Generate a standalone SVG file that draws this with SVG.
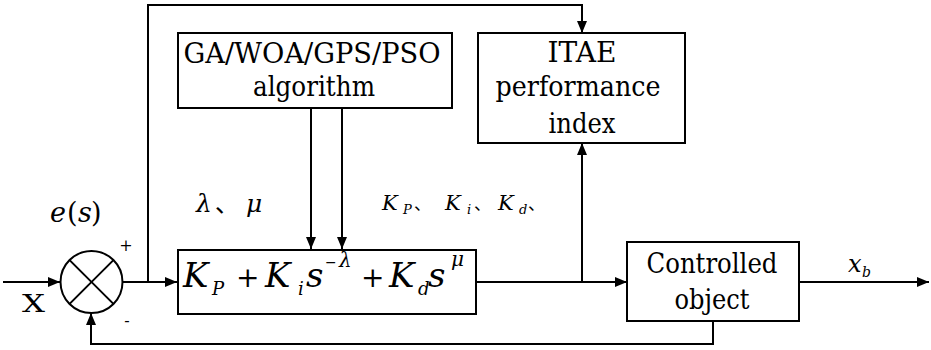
<svg xmlns="http://www.w3.org/2000/svg" width="931" height="350" viewBox="0 0 931 350">
<style>
.box{fill:#fff;stroke:#000;stroke-width:2}
.ln{fill:none;stroke:#000;stroke-width:2}
text{font-family:'DejaVu Serif','Liberation Serif',serif;fill:#000}
.lb{font-size:28px;text-anchor:middle}
.i{font-style:italic}
.cjk{font-family:'Noto Sans CJK SC',sans-serif;font-style:normal}
</style>
<defs>
<marker id="ah" viewBox="0 0 12 10" refX="12" refY="5" markerWidth="12" markerHeight="10" markerUnits="userSpaceOnUse" orient="auto">
<path d="M0,0 L12,5 L0,10 Z" fill="#000"/>
</marker>
</defs>
<rect width="931" height="350" fill="#fff"/>
<g id="connectors">
<line class="ln" x1="3" y1="282" x2="60" y2="282" marker-end="url(#ah)"/>
<line class="ln" x1="123" y1="282" x2="177" y2="282" marker-end="url(#ah)"/>
<polyline class="ln" points="148,282 148,5 582,5 582,33" marker-end="url(#ah)"/>
<line class="ln" x1="311" y1="108" x2="311" y2="249" marker-end="url(#ah)"/>
<line class="ln" x1="342" y1="108" x2="342" y2="249" marker-end="url(#ah)"/>
<line class="ln" x1="476" y1="282" x2="627" y2="282" marker-end="url(#ah)"/>
<line class="ln" x1="582" y1="282" x2="582" y2="143" marker-end="url(#ah)"/>
<line class="ln" x1="799" y1="282" x2="929" y2="282" marker-end="url(#ah)"/>
<polyline class="ln" points="713,321 713,344 91,344 91,313" marker-end="url(#ah)"/>
</g>
<g id="sum">
<circle cx="91.5" cy="282" r="31" class="box"/>
<line class="ln" x1="69.6" y1="260.1" x2="113.4" y2="303.9"/>
<line class="ln" x1="113.4" y1="260.1" x2="69.6" y2="303.9"/>
<text x="126" y="251" font-size="16" text-anchor="middle">+</text>
<text x="127" y="326" font-size="16" text-anchor="middle">-</text>
</g>
<g id="labels">
<text x="22" y="312" font-size="24" textLength="23" lengthAdjust="spacingAndGlyphs">X</text>
<text y="222" font-size="27"><tspan class="i" x="50">e</tspan><tspan x="67">(</tspan><tspan class="i" x="78">s</tspan><tspan x="91">)</tspan></text>
<text class="i" y="212" font-size="25"><tspan x="196">λ</tspan><tspan class="cjk" x="215" font-size="24">、</tspan><tspan x="246">μ</tspan></text>
<text class="i" y="210" font-size="21"><tspan x="382">K</tspan><tspan x="403" y="214" font-size="13">P</tspan><tspan class="cjk" x="414" y="210" font-size="17">、</tspan><tspan x="445">K</tspan><tspan x="467" y="214" font-size="13">i</tspan><tspan class="cjk" x="474" y="210" font-size="17">、</tspan><tspan x="498">K</tspan><tspan x="519" y="214" font-size="13">d</tspan><tspan class="cjk" x="528" y="210" font-size="17">、</tspan></text>
<text class="i" y="272" font-size="24"><tspan x="848">x</tspan><tspan x="862" y="277" font-size="14">b</tspan></text>
</g>
<g id="algorithm">
<rect class="box" x="178" y="33" width="274" height="75"/>
<text class="lb" x="312" y="63" textLength="257" lengthAdjust="spacingAndGlyphs">GA/WOA/GPS/PSO</text>
<text class="lb" x="314" y="96" textLength="122" lengthAdjust="spacingAndGlyphs">algorithm</text>
</g>
<g id="itae">
<rect class="box" x="478" y="33" width="207" height="110"/>
<text class="lb" x="582" y="62" textLength="69" lengthAdjust="spacingAndGlyphs">ITAE</text>
<text class="lb" x="578" y="96" textLength="165" lengthAdjust="spacingAndGlyphs">performance</text>
<text class="lb" x="582" y="133" textLength="67" lengthAdjust="spacingAndGlyphs">index</text>
</g>
<g id="controller">
<rect class="box" x="178" y="250" width="298" height="64"/>
<text class="i" y="287" font-size="34"><tspan x="183">K</tspan><tspan x="212" y="295" font-size="18">P</tspan><tspan x="236" y="287" font-style="normal" font-size="28">+</tspan><tspan x="265">K</tspan><tspan x="298" y="295" font-size="18">i</tspan><tspan x="306" y="287">s</tspan><tspan x="325" y="267" font-size="14" font-style="normal">−</tspan><tspan x="339" y="267" font-size="20">λ</tspan><tspan x="361" y="287" font-style="normal" font-size="28">+</tspan><tspan x="389">K</tspan><tspan x="418" y="295" font-size="18">d</tspan><tspan x="428" y="287">s</tspan><tspan x="451" y="266" font-size="20">μ</tspan></text>
</g>
<g id="plant">
<rect class="box" x="627" y="242" width="172" height="79"/>
<text class="lb" x="712" y="273" textLength="131" lengthAdjust="spacingAndGlyphs">Controlled</text>
<text class="lb" x="712" y="309" textLength="75" lengthAdjust="spacingAndGlyphs">object</text>
</g>
</svg>
